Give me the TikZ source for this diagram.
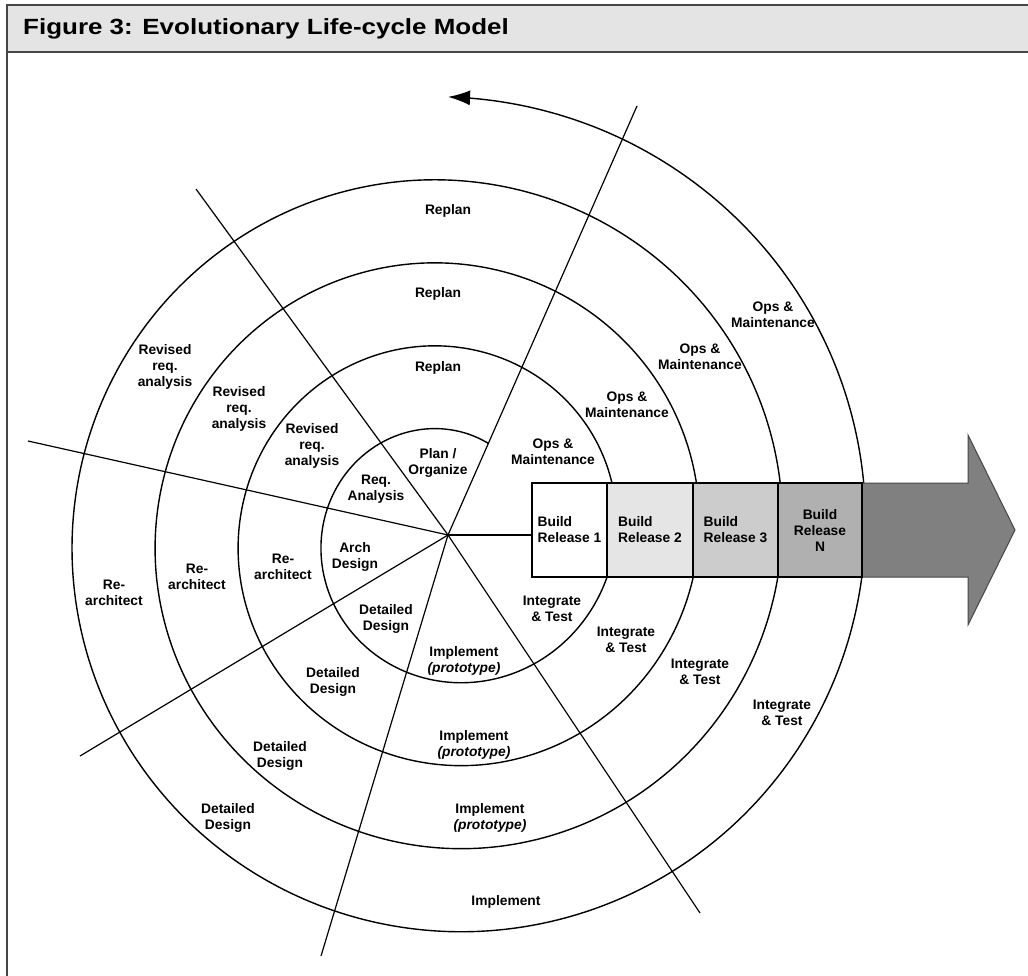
\documentclass[tikz,border=0pt]{standalone}
\usepackage{fontspec}
\setmainfont{Liberation Sans}
\newfontfamily\titlefont[FakeStretch=1.18]{Liberation Sans}
\usepackage{tikz}
\usetikzlibrary{arrows.meta}
\tikzset{>=latex}
\definecolor{hdrgray}{RGB}{228,228,228}
\definecolor{framegray}{RGB}{70,70,70}
\definecolor{relgrayA}{RGB}{229,229,229}
\definecolor{relgrayB}{RGB}{204,204,204}
\definecolor{relgrayC}{RGB}{176,176,176}
\definecolor{arrowgray}{RGB}{128,128,128}
\newcommand{\lblfont}{\bfseries\fontsize{13.8}{16}\selectfont}
\tikzset{
  lbl/.style={font=\lblfont, align=center, inner sep=0pt},
  relbox/.style={draw, line width=1.2, minimum height=94, inner sep=0pt, align=left, font=\lblfont},
  sector/.style={line width=1.2},
}

\begin{document}
\begin{tikzpicture}[x=1pt, y=-1pt]
\useasboundingbox (0,0) rectangle (1028,976);
% header and frame
\draw[fill=hdrgray, draw=framegray, line width=2] (7,5) rectangle (1032,52);
\node[anchor=west, inner sep=0pt, font=\titlefont\bfseries\fontsize{22}{26}\selectfont] (title) at (23,29) {Figure 3: Evolutionary Life-cycle Model};
\draw[framegray, line width=1.5] (7,52) -- (7,980);

% sector lines
\coordinate (ctr) at (448,535);
\coordinate (ur) at (637,106);
\coordinate (ul) at (196,189);
\coordinate (lf) at (28,441);
\coordinate (ll) at (80,756);
\coordinate (bt) at (321,956);
\coordinate (lr) at (700,913);
\foreach \e in {ur, ul, lf, ll, bt, lr}{
\draw[sector] (ctr) -- (\e);
}

% spiral
\draw[line width=1.4, -{Latex[length=22, width=15]}] plot[domain=66.2:1530, samples=700, smooth, variable=\t]
  ({448+(100.1+0.23091*(\t-66.2))*cos(\t)}, {535-(100.1+0.23091*(\t-66.2))*sin(\t)});

% release arrow and boxes
\draw[fill=arrowgray, draw=framegray, line width=1] (862,483) -- (968,483) -- (968,435) -- (1015,530) -- (968,625) -- (968,577) -- (862,577) -- cycle;
\node[relbox, fill=white, minimum width=75] (rel1) at (569.5,530) {Build\\Release 1};
\node[relbox, fill=relgrayA, minimum width=86] (rel2) at (650,530) {Build\\Release 2};
\node[relbox, fill=relgrayB, minimum width=85] (rel3) at (735.5,530) {Build\\Release 3};
\node[relbox, fill=relgrayC, minimum width=84, align=center] (rel4) at (820,530) {Build\\Release\\N};
\draw[sector] (ctr) -- (ctr -| rel1.west);

% first cycle
\node[lbl] (plan) at (438,463) {Plan /\\Organize};
\node[lbl] (req) at (376,489) {Req.\\Analysis};
\node[lbl] (arch) at (355,557) {Arch\\Design};
\node[lbl] (det1) at (386,619) {Detailed\\Design};
\node[lbl] (imp1) at (464,661) {Implement\\\textit{(prototype)}};
\node[lbl] (int1) at (552,609) {Integrate\\\& Test};
\node[lbl] (ops1) at (553,452) {Ops \&\\Maintenance};

% later cycles
\node[lbl] (replan1) at (438,368) {Replan};
\node[lbl] (replan2) at (438,294) {Replan};
\node[lbl] (replan3) at (448,211) {Replan};
\node[lbl] (rev1) at (312,446) {Revised\\req.\\analysis};
\node[lbl] (rev2) at (239,409) {Revised\\req.\\analysis};
\node[lbl] (rev3) at (165,367) {Revised\\req.\\analysis};
\node[lbl] (rearch1) at (283,567) {Re-\\architect};
\node[lbl] (rearch2) at (197,577) {Re-\\architect};
\node[lbl] (rearch3) at (114,593) {Re-\\architect};
\node[lbl] (det2) at (333,682) {Detailed\\Design};
\node[lbl] (det3) at (280,756) {Detailed\\Design};
\node[lbl] (det4) at (228,818) {Detailed\\Design};
\node[lbl] (imp2) at (474,745) {Implement\\\textit{(prototype)}};
\node[lbl] (imp3) at (490,818) {Implement\\\textit{(prototype)}};
\node[lbl] (imp4) at (506,902) {Implement};
\node[lbl] (int2) at (626,640) {Integrate\\\& Test};
\node[lbl] (int3) at (700,672) {Integrate\\\& Test};
\node[lbl] (int4) at (782,713) {Integrate\\\& Test};
\node[lbl] (ops2) at (627,405) {Ops \&\\Maintenance};
\node[lbl] (ops3) at (700,357) {Ops \&\\Maintenance};
\node[lbl] (ops4) at (773,315) {Ops \&\\Maintenance};
\end{tikzpicture}
\end{document}
